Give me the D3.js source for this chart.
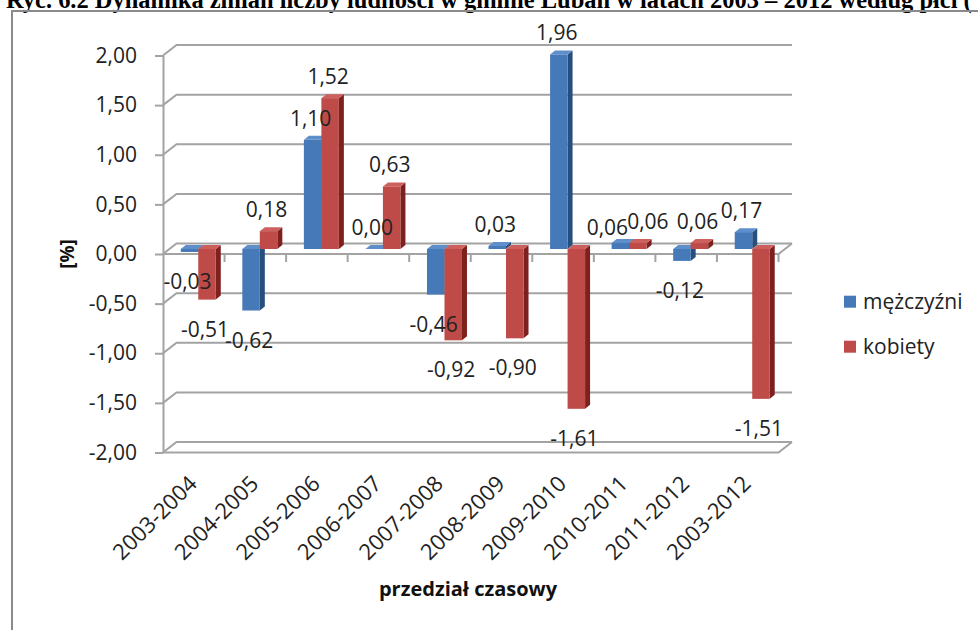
<!DOCTYPE html>
<html><head><meta charset="utf-8">
<script src="https://cdn.jsdelivr.net/npm/d3@7"></script>
<style>body{margin:0;background:#fff;overflow:hidden} svg{display:block}</style>
</head><body>
<svg id="c" width="978" height="630"></svg>
<script>
// ---- data ----
const categories = ["2003-2004","2004-2005","2005-2006","2006-2007","2007-2008","2008-2009","2009-2010","2010-2011","2011-2012","2003-2012"];
const menValues   = [-0.03,-0.62,1.10,0.00,-0.46,0.03,1.96,0.06,-0.12,0.17];
const womenValues = [-0.51,0.18,1.52,0.63,-0.92,-0.90,-1.61,0.06,0.06,-1.51];
const seriesNames = ["mężczyźni","kobiety"];
const yTickValues = [2,1.5,1,0.5,0,-0.5,-1,-1.5,-2];
const titleText = "Ryc. 6.2 Dynamika zmian liczby ludności w gminie Lubań w latach 2003 – 2012 według płci (";
const yAxisTitle = "[%]";
const xAxisTitle = "przedział czasowy";

// ---- layout ----
const svg = d3.select("#c");
const FONT = "'Open Sans', 'Noto Sans', sans-serif";
const gridColor = "#a3a3a3";
const textColor = "#222";
const left = 163, right = 778.5;
const wallDx = 13.5, wallDy = 10.5;   // depth of walls
const barDx = 4.5, barDy = 5;         // bars sit at mid-depth
const sideDx = 5, sideDy = 4;         // bar thickness
const colors = [
  {front:"#4679B8", top:"#5E8FCB", side:"#264F7D"},
  {front:"#BE4B48", top:"#CD605C", side:"#7D201E"}
];
const seriesData = seriesNames.map((n,i)=>({name:n, values: i===0?menValues:womenValues, c: colors[i]}));

const x = d3.scaleBand().domain(categories).range([left, right]).paddingInner(0).paddingOuter(0);
const y = d3.scaleLinear().domain([-2, 2]).range([452.5, 55.5]);
const xs = d3.scaleBand().domain(d3.range(seriesNames.length)).range([-17.5, 17.5]);
const fmt = v => v.toFixed(2).replace(".", ",");

// title (partially clipped at top, as in the source)
const title = svg.append("text").attr("x", 6).attr("y", 7.5)
  .attr("font-family", "'Liberation Serif','Times New Roman',serif").attr("font-weight", "bold")
  .attr("font-size", 20).attr("fill", "#000").text(titleText);
const tw = title.node().getComputedTextLength();
title.attr("font-size", 20 * 966 / tw);

// outer frame
svg.append("path").attr("d", "M12,632 L12,11 L980,11").attr("fill","none")
  .attr("stroke", "#8a8a8a").attr("stroke-width", 2);

// back wall gridlines + left wall diagonals
const grid = svg.append("g").attr("fill","none").attr("stroke", gridColor).attr("stroke-width", 2);
yTickValues.forEach(v => {
  grid.append("path").attr("d", `M${left},${y(v)} L${left+wallDx},${y(v)-wallDy} L${right+wallDx},${y(v)-wallDy}`);
});
// floor front edge at -2
grid.append("path").attr("d", `M${left},${y(-2)} L${right},${y(-2)} L${right+wallDx},${y(-2)-wallDy}`);
// zero plane front edge
grid.append("path").attr("d", `M${left},${y(0)} L${right},${y(0)} L${right+wallDx},${y(0)-wallDy}`);
// category boundary ticks
categories.forEach(c => {
  const bx = x(c) + x.bandwidth();
  grid.append("line").attr("x1", bx).attr("x2", bx).attr("y1", y(0)).attr("y2", y(0)+8);
});

// y axis
const yAxis = svg.append("g").attr("transform", `translate(${left},0)`)
  .call(d3.axisLeft(y).tickValues(yTickValues).tickFormat(fmt).tickSize(8).tickSizeOuter(0).tickPadding(18));
yAxis.selectAll("path,line").attr("stroke", gridColor).attr("stroke-width", 2);
yAxis.selectAll("text").attr("font-family", FONT).attr("font-size", 21).attr("fill", textColor);

// x axis labels
const xAxis = svg.append("g").attr("transform", `translate(${barDx},485)`)
  .call(d3.axisBottom(x).tickSize(0).tickPadding(0));
xAxis.select(".domain").remove();
xAxis.selectAll("text").attr("font-family", FONT).attr("font-size", 22).attr("fill", textColor)
  .attr("y", 0).attr("dy", 0).attr("text-anchor", "end").attr("transform", "rotate(-45)");

// bars
const bars = svg.append("g");
categories.forEach((c, ci) => {
  seriesData.forEach((s, si) => {
    const v = s.values[ci];
    const x0 = x(c) + x.bandwidth()/2 + barDx + xs(si);
    const w = xs.bandwidth();
    const yTop = Math.min(y(v), y(0)) - barDy;
    const yBot = Math.max(y(v), y(0)) - barDy;
    const g = bars.append("g");
    g.append("path").attr("fill", s.c.side)
      .attr("d", `M${x0+w},${yTop} L${x0+w+sideDx},${yTop-sideDy} L${x0+w+sideDx},${yBot-sideDy} L${x0+w},${yBot}Z`);
    g.append("path").attr("fill", s.c.top)
      .attr("d", `M${x0},${yTop} L${x0+sideDx},${yTop-sideDy} L${x0+w+sideDx},${yTop-sideDy} L${x0+w},${yTop}Z`);
    g.append("rect").attr("x", x0).attr("y", yTop).attr("width", w).attr("height", Math.max(0.01, yBot - yTop))
      .attr("fill", s.c.front);
  });
});

// data labels
const labelNudge = {"7|0": [-11, 6], "7|1": [12, 0]};
const labels = svg.append("g").attr("font-family", FONT).attr("font-size", 21).attr("fill", textColor)
  .attr("text-anchor", "middle");
categories.forEach((c, ci) => {
  seriesData.forEach((s, si) => {
    const v = s.values[ci];
    const cx = x(c) + x.bandwidth()/2 + barDx + xs(si) + xs.bandwidth()/2 - 2;
    let by = v >= 0 ? y(v) - barDy - 14 : y(v) - barDy + 37;
    const n = labelNudge[ci + "|" + si] || [0, 0];
    labels.append("text").attr("x", cx + n[0]).attr("y", by + n[1]).text(fmt(v));
  });
});

// legend
const legend = svg.append("g").attr("font-family", FONT).attr("font-size", 21).attr("fill", textColor);
seriesData.forEach((s, i) => {
  const cy = 301.7 + i * 45;
  legend.append("rect").attr("x", 844).attr("y", cy - 6).attr("width", 12).attr("height", 12).attr("fill", s.c.front);
  legend.append("text").attr("x", 863).attr("y", cy + 7).text(s.name);
});

// axis titles
svg.append("text").attr("transform", "translate(74,254) rotate(-90)").attr("text-anchor", "middle")
  .attr("font-family", FONT).attr("font-size", 19).attr("font-weight", "bold").attr("fill", "#111").text(yAxisTitle);
svg.append("text").attr("x", 468).attr("y", 596).attr("text-anchor", "middle")
  .attr("font-family", FONT).attr("font-size", 20).attr("font-weight", "bold").attr("fill", "#111").text(xAxisTitle);
</script>
</body></html>
